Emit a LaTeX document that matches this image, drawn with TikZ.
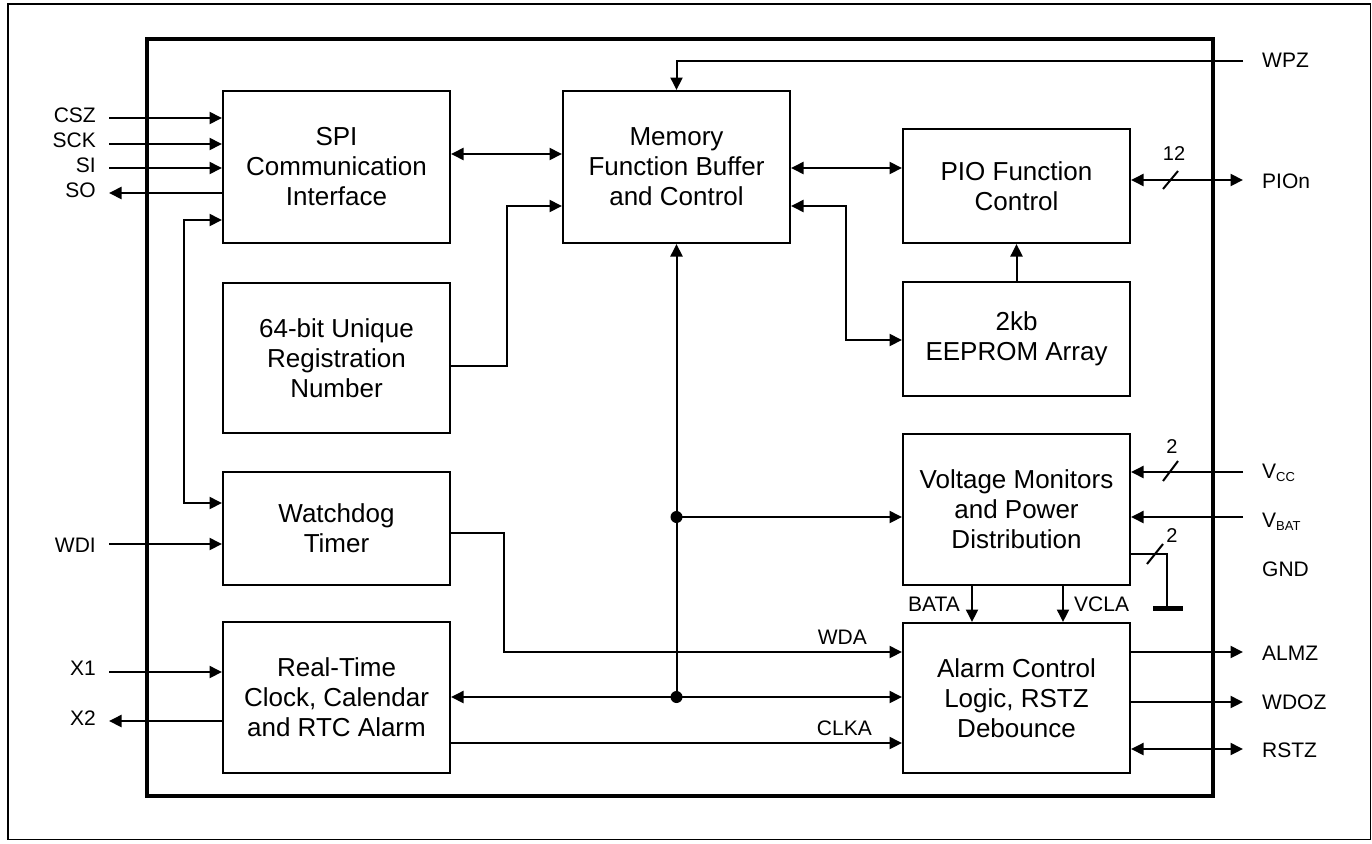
\documentclass[tikz,border=0pt]{standalone}
\usepackage{fontspec}
\setmainfont{Liberation Sans}
\usetikzlibrary{arrows.meta,calc}
\tikzset{
  blk/.style={draw, line width=2pt, minimum width=227pt, inner sep=0pt, align=center,
    font=\fontsize{26}{30}\selectfont},
  pin/.style={inner sep=0pt, font=\fontsize{21}{24}\selectfont},
  num/.style={inner sep=0pt, font=\fontsize{20}{24}\selectfont},
  conn/.style={line width=2pt},
  arr/.style={conn, -{Triangle[length=12.5pt,width=12pt]}},
  darr/.style={conn, {Triangle[length=12.5pt,width=12pt]}-{Triangle[length=12.5pt,width=12pt]}},
  dot/.style={circle, fill=black, inner sep=0pt, minimum size=12pt},
}
\newcommand{\subtxt}[1]{\raisebox{-3pt}{\fontsize{13}{13}\selectfont #1}}
\begin{document}
\begin{tikzpicture}[x=1pt,y=-1pt]
\useasboundingbox (0,0) rectangle (1372,843);
% frames
\draw[line width=1.5pt] (8,4) rectangle (1370.5,839.5);
\draw[line width=4pt] (147,39) rectangle (1213,796);

% blocks
\node[blk, minimum height=152pt] (spi) at (336.5,167) {SPI\\Communication\\Interface};
\node[blk, minimum height=152pt] (mem) at (676.5,167) {Memory\\Function Buffer\\and Control};
\node[blk, minimum height=114pt] (pio) at (1016.5,186) {PIO Function\\Control};
\node[blk, minimum height=114pt] (eep) at (1016.5,339) {2kb\\EEPROM Array};
\node[blk, minimum height=150pt] (uid) at (336.5,358) {64-bit Unique\\Registration\\Number};
\node[blk, minimum height=113pt] (wdt) at (336.5,528.5) {Watchdog\\Timer};
\node[blk, minimum height=151pt] (vmon) at (1016.5,509.5) {Voltage Monitors\\and Power\\Distribution};
\node[blk, minimum height=151pt] (rtc) at (336.5,697.5) {Real-Time\\Clock, Calendar\\and RTC Alarm};
\node[blk, minimum height=150pt] (alarm) at (1016.5,698) {Alarm Control\\Logic, RSTZ\\Debounce};

% left pins
\coordinate (csz) at (109,118);
\coordinate (sck) at (109,144);
\coordinate (si) at (109,168);
\coordinate (so) at (109,193);
\coordinate (wdi) at (109,544);
\coordinate (xa) at (109,672);
\coordinate (xb) at (109,721);
\node[pin, anchor=base east] (lcsz) at (96,122.5) {CSZ};
\node[pin, anchor=base east] (lsck) at (96,147.5) {SCK};
\node[pin, anchor=base east] (lsi) at (96,172.5) {SI};
\node[pin, anchor=base east] (lso) at (96,197) {SO};
\node[pin, anchor=base east] (lwdi) at (96,552) {WDI};
\node[pin, anchor=base east] (lxa) at (96,675.5) {X1};
\node[pin, anchor=base east] (lxb) at (96,725) {X2};
\draw[arr] (csz) -- (csz -| spi.west);
\draw[arr] (sck) -- (sck -| spi.west);
\draw[arr] (si) -- (si -| spi.west);
\draw[arr] (so -| spi.west) -- (so);
\draw[arr] (wdi) -- (wdi -| wdt.west);
\draw[arr] (xa) -- (xa -| rtc.west);
\draw[arr] (xb -| rtc.west) -- (xb);

% SPI <-> watchdog
\coordinate (fa) at (184,220);
\coordinate (fb) at (184,503);
\draw[darr] (fa -| spi.west) -- (fa) -- (fb) -- (fb -| wdt.west);

% SPI <-> memory, memory <-> PIO
\coordinate (sm) at (500,154);
\draw[darr] (sm -| spi.east) -- (sm -| mem.west);
\coordinate (mp) at (850,168);
\draw[darr] (mp -| mem.east) -- (mp -| pio.west);

% UID -> memory
\coordinate (ua) at (507,366);
\coordinate (ub) at (507,206);
\draw[arr] (ua -| uid.east) -- (ua) -- (ub) -- (ub -| mem.west);

% memory <-> EEPROM
\coordinate (ea) at (846,206);
\coordinate (eb) at (846,340);
\draw[darr] (ea -| mem.east) -- (ea) -- (eb) -- (eb -| eep.west);

% EEPROM -> PIO
\draw[arr] (eep.north) -- (pio.south);

% WPZ
\coordinate (wpz) at (1243,61);
\node[pin, anchor=base west] (lwpz) at (1262,67) {WPZ};
\draw[arr] (wpz) -- (wpz -| mem.north) -- (mem.north);

% PIOn
\coordinate (pion) at (1243,180);
\node[pin, anchor=base west] (lpion) at (1262,188.5) {PIOn};
\draw[darr] (pion -| pio.east) -- (pion);
\draw[conn] (1163,189) -- (1178,171);
\node[num, anchor=base] (n12) at (1174,160) {12};

% bus
\coordinate (ja) at (676.5,517);
\coordinate (jb) at (676.5,697);
\draw[arr] (jb) -- (mem.south);
\draw[arr] (ja) -- (ja -| vmon.west);
\draw[darr] (jb -| rtc.east) -- (jb -| alarm.west);
\node[dot] (da) at (ja) {};
\node[dot] (db) at (jb) {};

% WDA
\coordinate (wa) at (504,533);
\coordinate (wb) at (504,652);
\draw[arr] (wa -| wdt.east) -- (wa) -- (wb) -- (wb -| alarm.west);
\node[pin, anchor=base east] (lwda) at (867,644) {WDA};

% CLKA
\coordinate (ck) at (700,743);
\draw[arr] (ck -| rtc.east) -- (ck -| alarm.west);
\node[pin, anchor=base east] (lclka) at (872,735) {CLKA};

% VCC, VBAT
\coordinate (vcc) at (1243,472);
\coordinate (vbat) at (1243,517);
\draw[arr] (vcc) -- (vcc -| vmon.east);
\draw[arr] (vbat) -- (vbat -| vmon.east);
\draw[conn] (1163,481) -- (1178,461);
\node[num, anchor=base] (n2a) at (1172,453) {2};
\node[pin, anchor=base west] (lvcc) at (1262,478) {V\subtxt{CC}};
\node[pin, anchor=base west] (lvbat) at (1262,527) {V\subtxt{BAT}};

% GND
\coordinate (ga) at (1167,554);
\coordinate (gb) at (1167,606);
\draw[conn] (ga -| vmon.east) -- (ga) -- (gb);
\draw[line width=5pt] (1153,608) -- (1183,608);
\draw[conn] (1147,564) -- (1163,544);
\node[num, anchor=base] (n2b) at (1172,542) {2};
\node[pin, anchor=base west] (lgnd) at (1262,576) {GND};

% BATA, VCLA
\coordinate (ba) at (972,600);
\coordinate (vc) at (1063,600);
\draw[arr] (ba |- vmon.south) -- (ba |- alarm.north);
\draw[arr] (vc |- vmon.south) -- (vc |- alarm.north);
\node[pin, anchor=base east] (lbata) at (960,611) {BATA};
\node[pin, anchor=base west] (lvcla) at (1074,611) {VCLA};

% outputs
\coordinate (almz) at (1243,652);
\coordinate (wdoz) at (1243,702);
\coordinate (rstz) at (1243,749);
\draw[arr] (almz -| alarm.east) -- (almz);
\draw[arr] (wdoz -| alarm.east) -- (wdoz);
\draw[darr] (rstz -| alarm.east) -- (rstz);
\node[pin, anchor=base west] (lalmz) at (1262,660) {ALMZ};
\node[pin, anchor=base west] (lwdoz) at (1262,709) {WDOZ};
\node[pin, anchor=base west] (lrstz) at (1262,757) {RSTZ};
\end{tikzpicture}
\end{document}
